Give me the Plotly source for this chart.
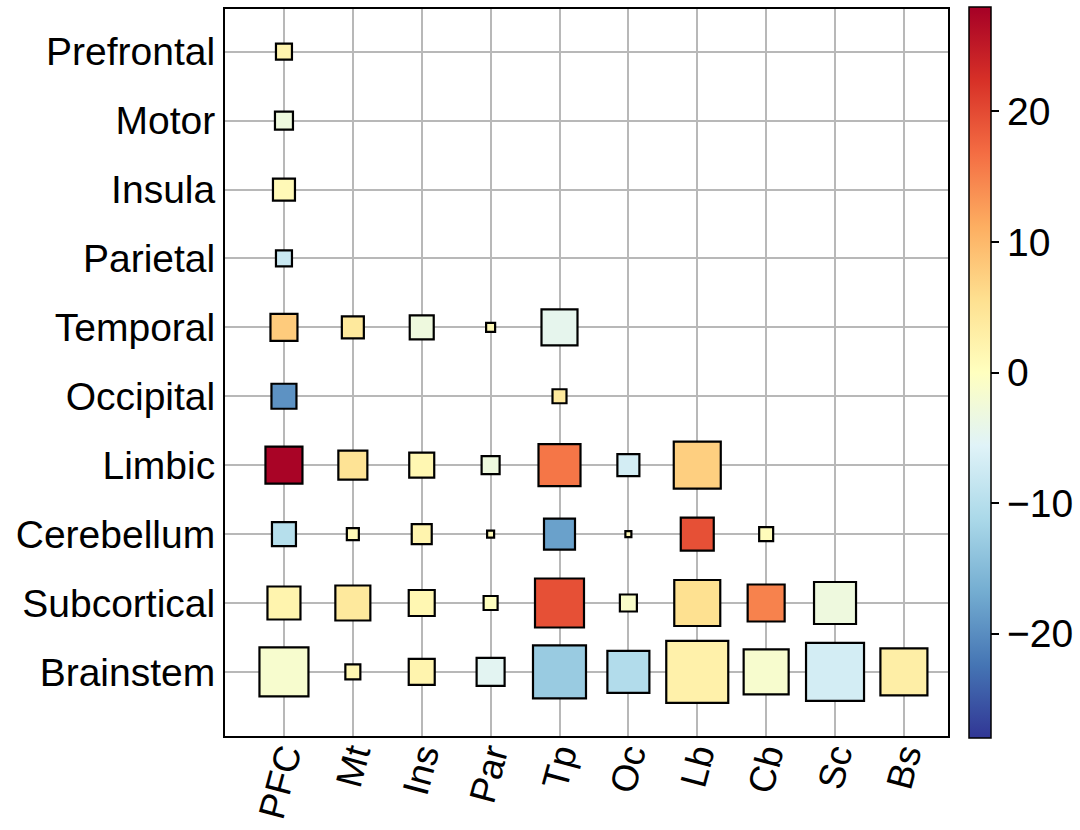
import plotly.graph_objects as go
import plotly.colors as pc

regions_y = ["Prefrontal", "Motor", "Insula", "Parietal", "Temporal",
             "Occipital", "Limbic", "Cerebellum", "Subcortical", "Brainstem"]
regions_x = ["PFC", "Mt", "Ins", "Par", "Tp", "Oc", "Lb", "Cb", "Sc", "Bs"]

# each entry: row region, column region
row_lab = (["Prefrontal"] + ["Motor"] + ["Insula"] + ["Parietal"]
           + ["Temporal"] * 5 + ["Occipital"] * 2 + ["Limbic"] * 7
           + ["Cerebellum"] * 8 + ["Subcortical"] * 9 + ["Brainstem"] * 10)
col_lab = (["PFC"] + ["PFC"] + ["PFC"] + ["PFC"]
           + ["PFC", "Mt", "Ins", "Par", "Tp"]
           + ["PFC", "Tp"]
           + ["PFC", "Mt", "Ins", "Par", "Tp", "Oc", "Lb"]
           + ["PFC", "Mt", "Ins", "Par", "Tp", "Oc", "Lb", "Cb"]
           + ["PFC", "Mt", "Ins", "Par", "Tp", "Oc", "Lb", "Cb", "Sc"]
           + ["PFC", "Mt", "Ins", "Par", "Tp", "Oc", "Lb", "Cb", "Sc", "Bs"])
# colour-encoded effect
effect = ([2.0] + [-3.0] + [1.0] + [-8.0]
          + [8.0, 4.0, -3.0, 1.0, -4.5]
          + [-19.5, 4.0]
          + [27.5, 5.0, 1.5, -3.0, 16.0, -7.0, 7.5]
          + [-10.0, 1.0, 2.0, 1.0, -18.0, 1.0, 19.5, 0.5]
          + [2.0, 4.0, 1.5, 0.0, 19.5, -1.0, 5.5, 15.0, -3.0]
          + [-1.5, 1.5, 2.0, -5.0, -13.0, -10.5, 2.5, -1.5, -7.0, 3.0])
# size-encoded magnitude
magnitude = ([18] + [20] + [24] + [18]
             + [29, 24, 26, 11, 38]
             + [27, 16]
             + [39, 31, 27, 20, 44, 24, 49]
             + [26, 14, 22, 9, 33, 8, 35, 16]
             + [35, 37, 28, 16, 51, 19, 48, 39, 44]
             + [51, 17, 28, 30, 55, 44, 64, 47, 60, 49])

cscale = pc.make_colorscale(list(reversed(pc.diverging.RdYlBu)))

FONT = "Liberation Sans, Arial, Helvetica, sans-serif"
FS = 39

fig = go.Figure()
fig.add_trace(go.Scatter(
    x=[regions_x.index(c) for c in col_lab],
    y=[regions_y.index(r) for r in row_lab],
    mode="markers",
    marker=dict(
        symbol="square",
        size=[m - 2 for m in magnitude],
        color=effect,
        colorscale=cscale,
        cmin=-28, cmax=28,
        opacity=1,
        line=dict(color="black", width=2.2),
        colorbar=dict(
            x=1.029, xanchor="left", xpad=0,
            y=0.5, yanchor="middle", ypad=0,
            len=731, lenmode="pixels",
            thickness=22,
            outlinecolor="black", outlinewidth=1.5,
            ticks="outside", ticklen=8, tickwidth=1.5, tickcolor="black",
            tickvals=[-20, -10, 0, 10, 20],
            ticktext=["\u221220", "\u221210", "0", "10", "20"],
            tickfont=dict(family=FONT, size=FS, color="black"),
        ),
    ),
    opacity=1,
    showlegend=False,
    hoverinfo="skip",
))

fig.update_xaxes(
    range=[-0.856, 9.64],
    tickvals=list(range(len(regions_x))), ticktext=regions_x,
    tickangle=-75,
    ticklabelstandoff=-19,
    tickfont=dict(family=FONT, size=37, color="black"),
    showgrid=True, gridcolor="#b8b8b8", gridwidth=2,
    showline=True, linecolor="black", linewidth=2, mirror=True,
    ticks="inside", ticklen=4, tickcolor="#b8b8b8", tickwidth=2,
    zeroline=False,
)
fig.update_yaxes(
    range=[9.93, -0.62],
    tickvals=list(range(len(regions_y))), ticktext=regions_y,
    tickfont=dict(family=FONT, size=FS, color="black"),
    showgrid=True, gridcolor="#b8b8b8", gridwidth=2,
    showline=True, linecolor="black", linewidth=2, mirror=True,
    ticks="inside", ticklen=4, tickcolor="#b8b8b8", tickwidth=2,
    zeroline=False,
)
fig.update_layout(
    width=1080, height=830,
    margin=dict(l=225, r=132, t=9, b=94, autoexpand=False),
    paper_bgcolor="white", plot_bgcolor="white",
    font=dict(family=FONT, size=FS, color="black"),
)
fig.write_html("out.html")
